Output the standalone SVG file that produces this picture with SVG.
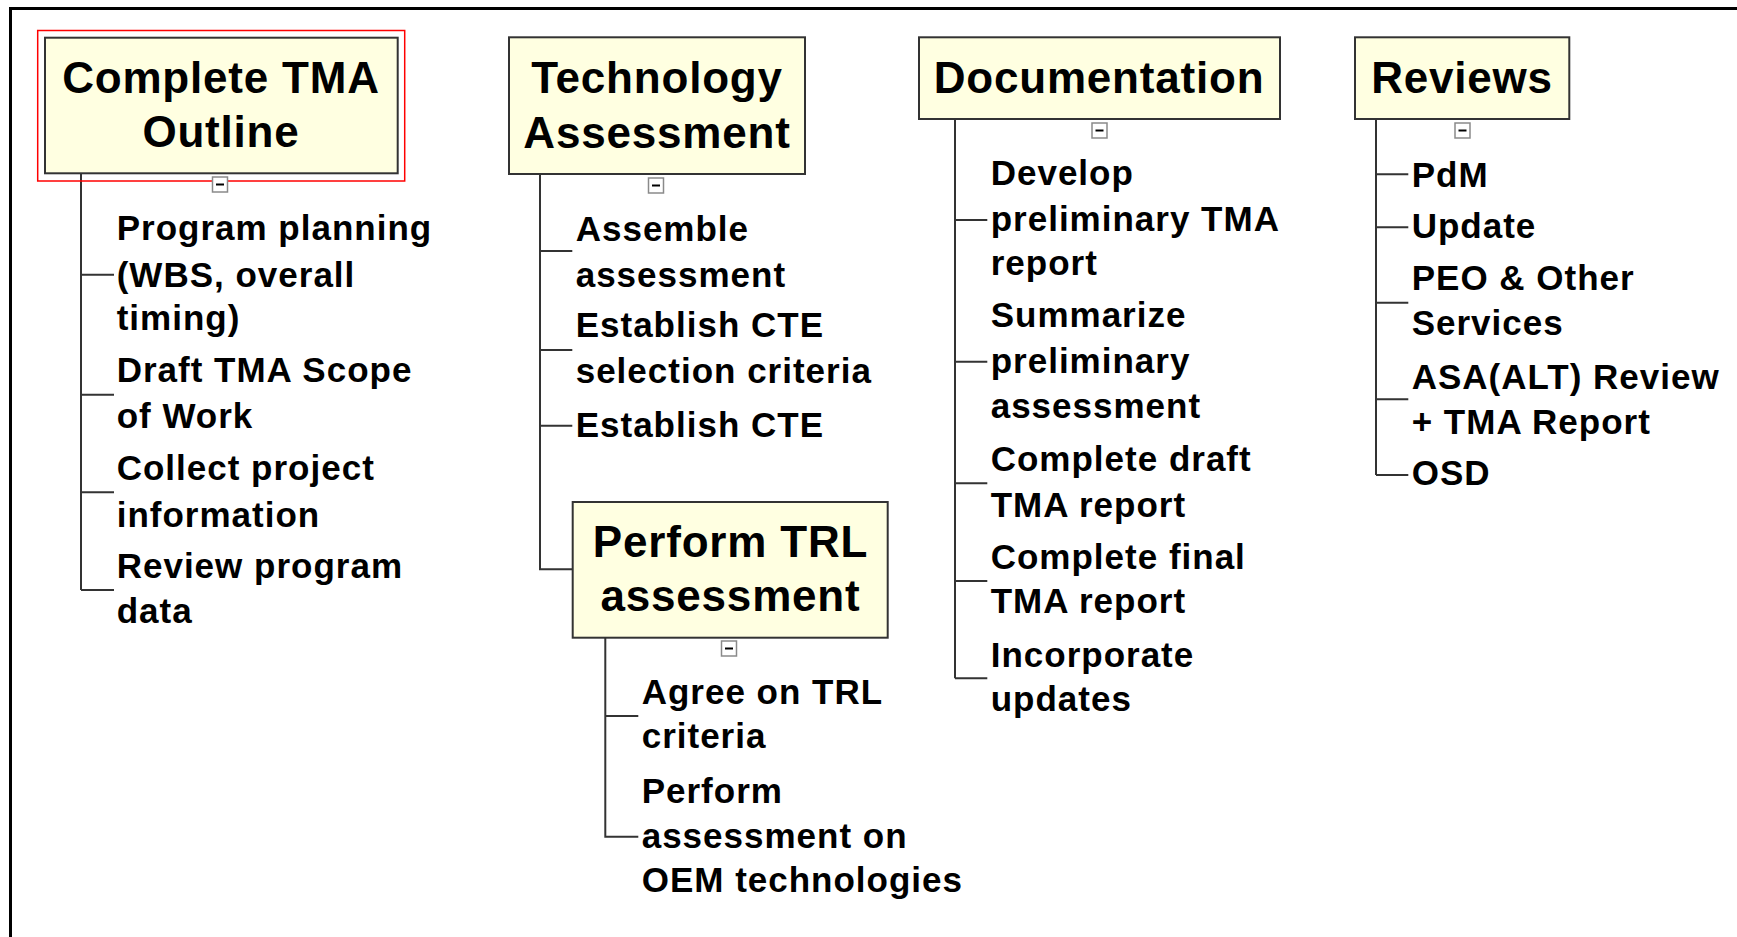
<svg xmlns="http://www.w3.org/2000/svg" width="1737" height="937" viewBox="0 0 1737 937">
<style>
  .box { fill: #FFFFE1; stroke: #333333; stroke-width: 2; }
  .sel { fill: none; stroke: #FF0000; stroke-width: 1.5; }
  .hdr { font-family: "Liberation Sans", Arial, sans-serif; font-weight: bold; font-size: 44px; letter-spacing: 0.8px; fill: #000; text-anchor: middle; }
  .item { font-family: "Liberation Sans", Arial, sans-serif; font-weight: bold; font-size: 35px; letter-spacing: 1px; fill: #000; }
  .tog { fill: #FFFFFF; stroke: #8A8A8A; stroke-width: 1.5; }
  .minus { stroke: #000; stroke-width: 2; }
  .conn { fill: none; stroke: #333333; stroke-width: 2; }
  .frame { stroke: #000; stroke-width: 3; fill: none; }
</style>
<defs>
  <g id="toggle">
    <rect class="tog" x="0" y="0" width="15" height="15"/>
    <line class="minus" x1="3.5" y1="7.5" x2="11.5" y2="7.5"/>
  </g>
</defs>
<rect x="0" y="0" width="1737" height="937" fill="#FFFFFF"/>
<g id="frame">
  <line class="frame" x1="9" y1="8.5" x2="1737" y2="8.5"/>
  <line class="frame" x1="10.5" y1="7" x2="10.5" y2="937"/>
</g>

<g id="connectors">
  <path class="conn" d="M81,173 V590 M81,274.7 H114 M81,394.7 H114 M81,492.3 H114 M81,590 H114"/>
  <path class="conn" d="M540,174 V569.3 H572.7 M540,251 H572.3 M540,350 H572.3 M540,425.7 H572.3"/>
  <path class="conn" d="M605.3,637.7 V836.7 H638.3 M605.3,716 H638.3"/>
  <path class="conn" d="M955,119 V678.3 M955,220 H987.3 M955,361.7 H987.3 M955,483.3 H987.3 M955,581 H987.3 M955,678.3 H987.3"/>
  <path class="conn" d="M1376,119 V475 M1376,174.3 H1408.3 M1376,227.3 H1408.3 M1376,302.7 H1408.3 M1376,399.3 H1408.3 M1376,475 H1408.3"/>
</g>

<g id="node-outline">
  <rect class="sel" x="37.7" y="30.5" width="367" height="150.5"/>
  <rect class="box" x="45" y="37.7" width="352.7" height="135.6"/>
  <text class="hdr" x="221" y="92.7">Complete TMA</text>
  <text class="hdr" x="221" y="146.7">Outline</text>
  <use href="#toggle" x="212.5" y="177"/>
</g>
<g id="item-program-planning">
  <text class="item" x="116.7" y="240">Program planning</text>
  <text class="item" x="116.7" y="286.7">(WBS, overall</text>
  <text class="item" x="116.7" y="330">timing)</text>
</g>
<g id="item-draft-scope">
  <text class="item" x="116.7" y="381.7">Draft TMA Scope</text>
  <text class="item" x="116.7" y="428.3">of Work</text>
</g>
<g id="item-collect">
  <text class="item" x="116.7" y="480">Collect project</text>
  <text class="item" x="116.7" y="526.7">information</text>
</g>
<g id="item-review-program">
  <text class="item" x="116.7" y="578.3">Review program</text>
  <text class="item" x="116.7" y="623.3">data</text>
</g>

<g id="node-technology">
  <rect class="box" x="509" y="37.3" width="296" height="136.7"/>
  <text class="hdr" x="657" y="92.7">Technology</text>
  <text class="hdr" x="657" y="147.7">Assessment</text>
  <use href="#toggle" x="648.5" y="178"/>
</g>
<g id="item-assemble">
  <text class="item" x="575.7" y="240.7">Assemble</text>
  <text class="item" x="575.7" y="286.7">assessment</text>
</g>
<g id="item-cte-criteria">
  <text class="item" x="575.7" y="336.7">Establish CTE</text>
  <text class="item" x="575.7" y="382.7">selection criteria</text>
</g>
<g id="item-cte">
  <text class="item" x="575.7" y="436.7">Establish CTE</text>
</g>

<g id="node-trl">
  <rect class="box" x="572.7" y="502" width="315" height="135.7"/>
  <text class="hdr" x="730.5" y="557.3">Perform TRL</text>
  <text class="hdr" x="730.5" y="610.7">assessment</text>
  <use href="#toggle" x="721.5" y="641"/>
</g>
<g id="item-agree">
  <text class="item" x="641.7" y="704">Agree on TRL</text>
  <text class="item" x="641.7" y="748.3">criteria</text>
</g>
<g id="item-perform-oem">
  <text class="item" x="641.7" y="803.3">Perform</text>
  <text class="item" x="641.7" y="848.3">assessment on</text>
  <text class="item" x="641.7" y="891.7">OEM technologies</text>
</g>

<g id="node-documentation">
  <rect class="box" x="919" y="37.3" width="361" height="81.7"/>
  <text class="hdr" x="1099" y="92.7">Documentation</text>
  <use href="#toggle" x="1092" y="123"/>
</g>
<g id="item-develop">
  <text class="item" x="990.7" y="185">Develop</text>
  <text class="item" x="990.7" y="230.7">preliminary TMA</text>
  <text class="item" x="990.7" y="275">report</text>
</g>
<g id="item-summarize">
  <text class="item" x="990.7" y="326.7">Summarize</text>
  <text class="item" x="990.7" y="372.7">preliminary</text>
  <text class="item" x="990.7" y="418.3">assessment</text>
</g>
<g id="item-draft-report">
  <text class="item" x="990.7" y="470.7">Complete draft</text>
  <text class="item" x="990.7" y="516.7">TMA report</text>
</g>
<g id="item-final-report">
  <text class="item" x="990.7" y="569.3">Complete final</text>
  <text class="item" x="990.7" y="613.3">TMA report</text>
</g>
<g id="item-incorporate">
  <text class="item" x="990.7" y="666.7">Incorporate</text>
  <text class="item" x="990.7" y="711">updates</text>
</g>

<g id="node-reviews">
  <rect class="box" x="1355" y="37.3" width="214.3" height="81.7"/>
  <text class="hdr" x="1462" y="92.7">Reviews</text>
  <use href="#toggle" x="1455" y="123"/>
</g>
<g id="item-pdm"><text class="item" x="1411.7" y="186.7">PdM</text></g>
<g id="item-update"><text class="item" x="1411.7" y="238.3">Update</text></g>
<g id="item-peo">
  <text class="item" x="1411.7" y="290">PEO &amp; Other</text>
  <text class="item" x="1411.7" y="335">Services</text>
</g>
<g id="item-asa">
  <text class="item" x="1411.7" y="389.3">ASA(ALT) Review</text>
  <text class="item" x="1411.7" y="434.3">+ TMA Report</text>
</g>
<g id="item-osd"><text class="item" x="1411.7" y="485">OSD</text></g>
</svg>
